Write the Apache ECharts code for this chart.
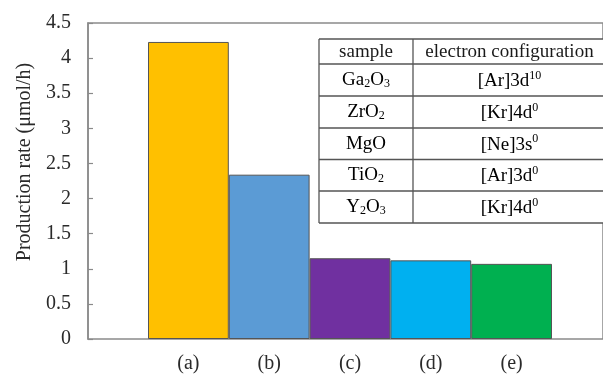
<!DOCTYPE html>
<html><head><meta charset="utf-8">
<script src="https://cdn.jsdelivr.net/npm/echarts@6/dist/echarts.min.js"></script>
<style>html,body{margin:0;padding:0;background:#fff}#c{width:603px;height:374px}</style>
</head><body><div id="c"></div>
<script>
const categories = ['(a)', '(b)', '(c)', '(d)', '(e)'];
const rates = [4.23, 2.34, 1.15, 1.12, 1.07];
const barColors = ['#FFC000', '#5B9BD5', '#7030A0', '#00B0F0', '#00B050'];
const yTicks = { min: 0, max: 4.5, interval: 0.5 };
const yTitle = 'Production rate (\u03bcmol/h)';
const tableHeader = ['sample', 'electron configuration'];
const sampleRich = ['{n|Ga}{s|2}{n|O}{s|3}', '{n|ZrO}{s|2}', '{n|MgO}', '{n|TiO}{s|2}', '{n|Y}{s|2}{n|O}{s|3}'];
const configRich = ['{n|[Ar]3d}{p|10}', '{n|[Kr]4d}{p|0}', '{n|[Ne]3s}{p|0}', '{n|[Ar]3d}{p|0}', '{n|[Kr]4d}{p|0}'];

const FF = '"Liberation Serif", "Times New Roman", serif';
const axisGray = '#8a8a8a';
const chart = echarts.init(document.getElementById('c'), null, { renderer: 'canvas' });

const tX0 = 319, tX1 = 413, tX2 = 606;
const tY = [39, 64, 96, 128, 159.5, 191, 223];
const rich = {
  n: { fontSize: 19, fontFamily: FF, color: '#1a1a1a', verticalAlign: 'bottom' },
  s: { fontSize: 12, fontFamily: FF, color: '#1a1a1a', verticalAlign: 'bottom' },
  p: { fontSize: 12, fontFamily: FF, color: '#1a1a1a', verticalAlign: 'bottom', padding: [0, 0, 9, 0] }
};
const graphics = [];
const lineStyle = { stroke: '#555', lineWidth: 1.3 };
graphics.push({ type: 'rect', shape: { x: tX0, y: tY[0], width: tX2 - tX0, height: tY[6] - tY[0] }, style: { fill: '#fff' }, z: 9 });
tY.forEach(y => graphics.push({ type: 'line', shape: { x1: tX0, y1: y, x2: tX2, y2: y }, style: lineStyle, z: 10 }));
[tX0, tX1].forEach(x => graphics.push({ type: 'line', shape: { x1: x, y1: tY[0], x2: x, y2: tY[6] }, style: lineStyle, z: 10 }));
graphics.push({ type: 'text', x: (tX0 + tX1) / 2, y: (tY[0] + tY[1]) / 2 + 1, z: 11,
  style: { text: tableHeader[0], align: 'center', verticalAlign: 'middle', fontSize: 19, fontFamily: FF, fill: '#1a1a1a' } });
graphics.push({ type: 'text', x: (tX1 + tX2) / 2, y: (tY[0] + tY[1]) / 2 + 1, z: 11,
  style: { text: tableHeader[1], align: 'center', verticalAlign: 'middle', fontSize: 19, fontFamily: FF, fill: '#1a1a1a' } });
for (let i = 0; i < sampleRich.length; i++) {
  const cy = (tY[i + 1] + tY[i + 2]) / 2;
  graphics.push({ type: 'text', x: (tX0 + tX1) / 2, y: cy, z: 11,
    style: { text: sampleRich[i], rich, align: 'center', verticalAlign: 'middle' } });
  graphics.push({ type: 'text', x: (tX1 + tX2) / 2, y: cy, z: 11,
    style: { text: configRich[i], rich, align: 'center', verticalAlign: 'middle' } });
}
graphics.push({ type: 'text', x: 25, y: 162, rotation: Math.PI / 2, z: 11,
  style: { text: yTitle, align: 'center', verticalAlign: 'middle', fontSize: 20, fontFamily: FF, fill: '#2a2a2a' } });

chart.setOption({
  animation: false,
  backgroundColor: '#fff',
  grid: [
    { left: 88, top: 23, bottom: 35, right: -20, show: true, borderColor: axisGray, borderWidth: 1.5, backgroundColor: 'transparent' },
    { left: 148, top: 23, bottom: 35, width: 404 }
  ],
  xAxis: [
    { gridIndex: 0, type: 'category', data: [''], show: false },
    { gridIndex: 1, type: 'category', data: categories, boundaryGap: true,
      axisLine: { show: false }, axisTick: { show: false },
      axisLabel: { margin: 15, fontSize: 20, fontFamily: FF, color: '#2a2a2a' } }
  ],
  yAxis: [
    { gridIndex: 0, type: 'value', min: yTicks.min, max: yTicks.max, interval: yTicks.interval,
      splitLine: { show: false },
      axisLine: { show: true, lineStyle: { color: axisGray, width: 1.5 } },
      axisTick: { show: true, inside: true, length: 5, lineStyle: { color: axisGray, width: 1.2 } },
      axisLabel: { margin: 17, fontSize: 20, fontFamily: FF, color: '#2a2a2a' } },
    { gridIndex: 1, type: 'value', min: yTicks.min, max: yTicks.max, interval: yTicks.interval, show: false }
  ],
  series: [{
    type: 'bar', xAxisIndex: 1, yAxisIndex: 1, barCategoryGap: 0,
    data: rates.map((v, i) => ({ value: v, itemStyle: { color: barColors[i] } })),
    itemStyle: { borderColor: '#555', borderWidth: 1 }
  }],
  graphic: graphics
});
</script></body></html>
